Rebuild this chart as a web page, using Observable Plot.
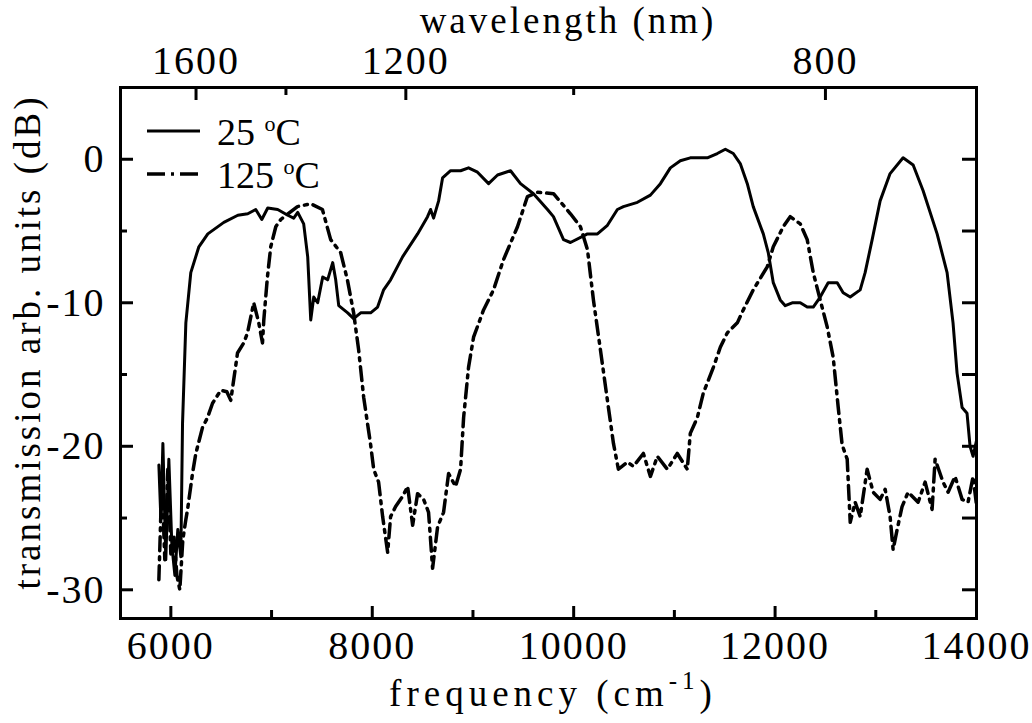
<!DOCTYPE html>
<html><head><meta charset="utf-8">
<script src="https://cdn.jsdelivr.net/npm/d3@7"></script>
<script src="https://cdn.jsdelivr.net/npm/@observablehq/plot@0.6"></script>
<style>
body{margin:0;background:#fff}
svg{display:block}
svg text{font-family:"Liberation Serif","Times New Roman",serif !important;}
</style>
</head><body><div id="chart"></div>
<script>
// 25 °C curve: frequency (cm^-1) and transmission (dB)
const freq25 = [5881,5901,5921,5950,5980,6010,6040,6069,6099,6116,6149,6198,6278,6367,6526,6665,6764,6843,6903,6962,7061,7161,7220,7260,7319,7359,7389,7419,7458,7508,7557,7607,7637,7667,7756,7815,7885,7984,8053,8113,8182,8301,8450,8549,8579,8609,8659,8698,8778,8877,8956,9045,9155,9244,9373,9472,9601,9740,9799,9899,9968,10137,10236,10335,10434,10494,10633,10762,10861,10960,11059,11158,11327,11426,11506,11585,11654,11724,11783,11883,11932,11982,12051,12101,12170,12250,12319,12379,12448,12527,12617,12676,12746,12845,12894,12964,13043,13142,13271,13371,13470,13609,13708,13767,13807,13857,13906,13936,13966,14000];
const db25 = [-21.3,-25.1,-19.8,-27.9,-20.9,-26.9,-29.0,-25.8,-27.7,-18.4,-11.4,-7.9,-6.1,-5.2,-4.4,-3.9,-3.8,-3.5,-4.2,-3.4,-3.5,-3.9,-4.1,-3.7,-4.5,-6.8,-11.2,-9.6,-10.0,-8.2,-8.4,-7.2,-8.4,-10.2,-10.7,-11.1,-10.7,-10.7,-10.3,-9.1,-8.4,-6.8,-5.2,-4.0,-3.5,-4.1,-2.9,-1.3,-0.8,-0.8,-0.6,-0.9,-1.7,-1.1,-0.8,-1.7,-2.4,-3.5,-4.0,-5.6,-5.8,-5.2,-5.2,-4.6,-3.5,-3.3,-3.0,-2.5,-1.7,-0.6,-0.1,0.1,0.1,0.4,0.7,0.4,-0.3,-1.7,-3.3,-5.2,-6.5,-8.6,-9.8,-10.2,-10.0,-10.0,-10.3,-10.3,-9.6,-8.6,-8.6,-9.3,-9.6,-9.1,-7.9,-5.6,-2.9,-1.0,0.1,-0.4,-2.2,-5.2,-7.9,-11.4,-14.9,-17.3,-17.7,-20.0,-20.7,-19.6];

// 125 °C curve
const freq125 = [5881,5911,5940,5970,6000,6030,6060,6089,6119,6149,6166,6215,6248,6314,6364,6414,6496,6556,6595,6662,6724,6761,6823,6873,6910,6923,6959,6992,7042,7091,7257,7389,7505,7587,7686,7753,7815,7865,7915,7984,8014,8063,8103,8153,8182,8232,8301,8351,8401,8450,8510,8559,8599,8649,8708,8758,8827,8877,8907,8956,9006,9105,9204,9303,9442,9541,9641,9800,9968,10067,10137,10196,10266,10335,10395,10444,10533,10593,10692,10762,10831,10930,11029,11128,11158,11228,11287,11387,11456,11525,11625,11684,11783,11922,11982,12081,12150,12250,12319,12379,12448,12518,12577,12627,12666,12716,12746,12795,12845,12914,12974,13043,13093,13142,13172,13212,13261,13321,13420,13490,13559,13589,13668,13718,13787,13857,13916,13966,14000];
const db125 = [-29.3,-22.3,-27.9,-21.6,-27.5,-26.2,-29.0,-30.0,-26.5,-25.1,-24.4,-21.9,-20.5,-18.7,-18.0,-17.0,-16.1,-16.2,-16.8,-13.5,-12.8,-12.1,-10.0,-11.4,-12.8,-11.2,-8.2,-6.1,-4.7,-4.2,-3.3,-3.1,-3.5,-5.6,-6.5,-8.4,-10.7,-13.3,-16.6,-19.9,-21.6,-22.5,-24.9,-27.4,-24.9,-24.2,-23.5,-22.8,-25.5,-23.3,-23.7,-24.6,-28.5,-25.6,-24.6,-21.9,-22.8,-21.6,-18.0,-14.5,-12.4,-10.5,-9.1,-7.0,-4.7,-2.6,-2.3,-2.4,-3.8,-4.7,-6.3,-9.8,-13.3,-16.8,-19.8,-21.6,-21.1,-21.4,-20.5,-22.1,-20.7,-21.6,-20.5,-21.6,-19.1,-18.0,-16.3,-14.5,-13.1,-12.1,-11.4,-10.5,-9.1,-7.5,-6.1,-4.7,-4.0,-4.5,-5.6,-7.9,-9.8,-11.7,-13.8,-17.3,-19.9,-20.9,-25.3,-23.9,-24.9,-21.6,-23.2,-23.7,-23.0,-24.9,-27.2,-25.8,-24.2,-23.2,-23.9,-22.5,-24.4,-20.9,-22.5,-23.2,-22.1,-23.7,-23.9,-22.1,-24.1];

// axis ticks
const freqTicksMajor = [6000, 8000, 10000, 12000, 14000];
const freqTicksMinor = [7000, 9000, 11000, 13000];
const dbTicksMajor = [0, -10, -20, -30];
const dbTicksMinor = [-5, -15, -25];
const dbTicksRight = [0, -5, -10, -15, -20, -25, -30];
const nmTicksMajor = [1600, 1200, 800];
const nmTicksMinor = [1400, 1000];

const series = [
  {name: "25 °C", freq: freq25, db: db25},
  {name: "125 °C", freq: freq125, db: db125}
];
const rows = series.flatMap(s => s.freq.map((f, i) => ({series: s.name, f, v: s.db[i]})));

const W = 1032, H = 723;
const mL = 120, mR = 56, mT = 87, mB = 105;
const innerW = W - mL - mR, innerH = H - mT - mB;
const dashDot = "14,6,3,6";
const tickFont = 40;

const chart = Plot.plot({
  width: W, height: H,
  marginLeft: mL, marginRight: mR, marginTop: mT, marginBottom: mB,
  style: {background: "#fff", color: "#000"},
  x: {domain: [5500, 14000], axis: null},
  y: {domain: [-32, 5], axis: null},
  marks: [
    Plot.line(rows.filter(d => d.series === "25 °C"), {x: "f", y: "v", stroke: "#000", strokeWidth: 3, strokeLinejoin: "round"}),
    Plot.line(rows.filter(d => d.series === "125 °C"), {x: "f", y: "v", stroke: "#000", strokeWidth: 3.5, strokeDasharray: dashDot}),
    // inward ticks
    Plot.tickX(freqTicksMajor, {x: d => d, insetTop: innerH - 12, strokeWidth: 3}),
    Plot.tickX(freqTicksMinor, {x: d => d, insetTop: innerH - 8, strokeWidth: 3}),
    Plot.tickX(nmTicksMajor, {x: d => 1e7 / d, insetBottom: innerH - 13, strokeWidth: 3}),
    Plot.tickX(nmTicksMinor, {x: d => 1e7 / d, insetBottom: innerH - 8, strokeWidth: 3}),
    Plot.tickY(dbTicksMajor, {y: d => d, insetRight: innerW - 13, strokeWidth: 3}),
    Plot.tickY(dbTicksMinor, {y: d => d, insetRight: innerW - 7, strokeWidth: 3}),
    Plot.tickY(dbTicksRight, {y: d => d, insetLeft: innerW - 14, strokeWidth: 3}),
    Plot.frame({stroke: "#000", strokeWidth: 3}),
    // tick labels
    Plot.text(freqTicksMajor, {x: d => d, text: d => String(d), frameAnchor: "bottom", lineAnchor: "top", dy: 12, fontSize: tickFont}),
    Plot.text(dbTicksMajor, {y: d => d, text: d => String(d), frameAnchor: "left", textAnchor: "end", lineAnchor: "middle", dx: -15, fontSize: tickFont}),
    Plot.text(nmTicksMajor, {x: d => 1e7 / d, text: d => String(d), frameAnchor: "top", lineAnchor: "bottom", dy: -14, fontSize: tickFont})
  ]
});

const svg = d3.select(chart);
svg.selectAll('g[aria-label="text"] text').attr("letter-spacing", 2);
// axis titles
svg.append("text").attr("x", 568).attr("y", 33).attr("text-anchor", "middle")
  .attr("font-size", 37).attr("letter-spacing", 3).text("wavelength (nm)");
const botTitle = svg.append("text").attr("x", 553).attr("y", 706).attr("text-anchor", "middle")
  .attr("font-size", 37).attr("letter-spacing", 5);
botTitle.append("tspan").text("frequency (cm");
botTitle.append("tspan").attr("font-size", 25).attr("dy", -17).text("-1");
botTitle.append("tspan").attr("dy", 17).text(")");
svg.append("text").attr("transform", "translate(40,342) rotate(-90)").attr("text-anchor", "middle")
  .attr("font-size", 37).attr("letter-spacing", 3).text("transmission arb. units (dB)");

// legend
const leg = [{y: 131, dash: null, label: "25 ", w: 3}, {y: 174, dash: "18,6,3,6", label: "125 ", w: 3.5}];
leg.forEach((l) => {
  svg.append("line").attr("x1", 147).attr("x2", 200).attr("y1", l.y).attr("y2", l.y)
    .attr("stroke", "#000").attr("stroke-width", l.w).attr("stroke-dasharray", l.dash);
  const t = svg.append("text").attr("x", 217).attr("y", l.y + 14).attr("font-size", 38).attr("text-anchor", "start");
  t.append("tspan").text(l.label);
  t.append("tspan").attr("font-size", 22).attr("dy", -14).text("o");
  t.append("tspan").attr("dy", 14).text("C");
});

document.getElementById("chart").appendChild(chart);
</script>
</body></html>
